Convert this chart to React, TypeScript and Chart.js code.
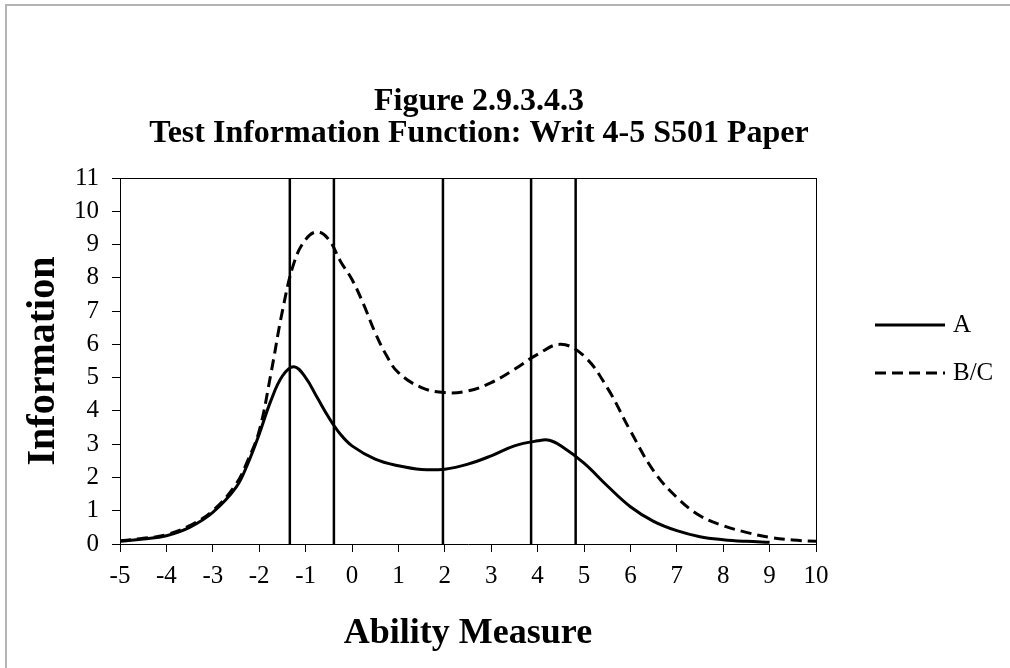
import React, { useEffect, useRef } from "react";
import { Chart, registerables } from "chart.js";

Chart.register(...registerables);

// ---- data ----
const TITLE_LINES = ["Figure 2.9.3.4.3", "Test Information Function: Writ 4-5 S501 Paper"];
const X_TITLE = "Ability Measure";
const Y_TITLE = "Information";

const ABILITY_A = [-5, -4.5, -4, -3.5, -3, -2.5, -2.25, -2, -1.75, -1.5, -1.25, -1, -0.75, -0.5, -0.25, 0, 0.5, 1, 1.5, 2, 2.5, 3, 3.5, 4, 4.25, 4.5, 5, 5.5, 6, 6.5, 7, 7.5, 8, 8.5, 9];
const INFO_A = [0.08, 0.15, 0.25, 0.5, 0.95, 1.7, 2.4, 3.3, 4.3, 5.05, 5.33, 5.0, 4.4, 3.8, 3.3, 2.95, 2.55, 2.35, 2.24, 2.25, 2.4, 2.65, 2.95, 3.1, 3.12, 2.95, 2.43, 1.75, 1.12, 0.68, 0.4, 0.22, 0.13, 0.08, 0.05];

const ABILITY_BC = [-5, -4.5, -4, -3.5, -3, -2.5, -2.25, -2, -1.75, -1.5, -1.25, -1, -0.75, -0.5, -0.25, 0, 0.25, 0.5, 0.75, 1, 1.5, 2, 2.5, 3, 3.5, 4, 4.5, 5, 5.5, 6, 6.5, 7, 7.5, 8, 8.5, 9, 9.5, 10];
const INFO_BC = [0.1, 0.17, 0.28, 0.55, 1.0, 1.8, 2.5, 3.4, 5.1, 7.0, 8.45, 9.15, 9.38, 9.15, 8.5, 7.95, 7.2, 6.35, 5.65, 5.15, 4.7, 4.55, 4.6, 4.85, 5.25, 5.7, 6.0, 5.65, 4.7, 3.4, 2.2, 1.4, 0.85, 0.55, 0.35, 0.2, 0.12, 0.08];

const CUT_SCORES = [-1.34, -0.39, 1.96, 3.86, 4.82];

const SERIES_LABELS = ["A", "B/C"];
const X_MIN = -5;
const X_MAX = 10;
const Y_MIN = 0;
const Y_MAX = 11;

const FONT = "'Liberation Serif', 'Times New Roman', serif";

const decorPlugin = {
  id: "decor",
  beforeDraw(chart: any) {
    const ctx = chart.ctx;
    ctx.save();
    ctx.fillStyle = "#ffffff";
    ctx.fillRect(0, 0, chart.width, chart.height);
    ctx.fillStyle = "#b4b4b4";
    ctx.fillRect(5, 4, chart.width - 5, 2);
    ctx.fillRect(5, 4, 2, chart.height - 4);
    ctx.restore();
  },
  afterDraw(chart: any) {
    const ctx = chart.ctx;
    const ca = chart.chartArea;
    ctx.save();
    // top frame line
    ctx.strokeStyle = "#000";
    ctx.lineWidth = 1;
    ctx.beginPath();
    ctx.moveTo(ca.left, Math.round(ca.top) + 0.5);
    ctx.lineTo(ca.right, Math.round(ca.top) + 0.5);
    ctx.stroke();

    // legend
    const items = chart.data.datasets.filter((d: any) => d.showInLegend);
    const ys = [325, 373];
    ctx.fillStyle = "#000";
    ctx.font = `25px ${FONT}`;
    ctx.textAlign = "left";
    ctx.textBaseline = "middle";
    items.forEach((d: any, i: number) => {
      const y = ys[i];
      ctx.strokeStyle = d.borderColor;
      ctx.lineWidth = d.borderWidth;
      ctx.setLineDash(d.borderDash || []);
      ctx.beginPath();
      ctx.moveTo(875, y);
      ctx.lineTo(945, y);
      ctx.stroke();
      ctx.setLineDash([]);
      ctx.fillText(d.label, 953, y);
    });
    ctx.restore();
  },
};

export default function App() {
  const ref = useRef<HTMLCanvasElement>(null);

  useEffect(() => {
    if (!ref.current) return;
    const cutSets = CUT_SCORES.map((c, i) => ({
      label: `cut${i}`,
      data: [
        { x: c, y: Y_MIN },
        { x: c, y: Y_MAX },
      ],
      borderColor: "#000",
      borderWidth: 2.5,
      pointRadius: 0,
      showInLegend: false,
    }));
    const chart = new Chart(ref.current, {
      type: "line",
      data: {
        datasets: [
          {
            label: SERIES_LABELS[0],
            data: ABILITY_A.map((x, i) => ({ x, y: INFO_A[i] })),
            borderColor: "#000",
            backgroundColor: "transparent",
            borderWidth: 3,
            pointRadius: 0,
            tension: 0.4,
            showInLegend: true,
          } as any,
          {
            label: SERIES_LABELS[1],
            data: ABILITY_BC.map((x, i) => ({ x, y: INFO_BC[i] })),
            borderColor: "#000",
            backgroundColor: "transparent",
            borderWidth: 3,
            borderDash: [11, 6],
            pointRadius: 0,
            tension: 0.4,
            showInLegend: true,
          } as any,
          ...(cutSets as any[]),
        ],
      },
      options: {
        responsive: false,
        animation: false,
        layout: { padding: { left: 22, right: 74, top: 0, bottom: 0 } },
        plugins: {
          legend: { display: false },
          tooltip: { enabled: false },
          title: {
            display: true,
            text: TITLE_LINES,
            color: "#000",
            font: { family: FONT, size: 32, weight: "bold", lineHeight: 1 },
            padding: { top: 86, bottom: 28 },
          },
        },
        scales: {
          x: {
            type: "linear",
            min: X_MIN,
            max: X_MAX,
            afterFit: (s: any) => {
              s.height = 124;
            },
            title: {
              display: true,
              text: X_TITLE,
              color: "#000",
              font: { family: FONT, size: 36, weight: "bold", lineHeight: 1.2 },
              padding: { top: 0, bottom: 13 },
            },
            ticks: {
              stepSize: 1,
              color: "#000",
              font: { family: FONT, size: 25 },
              padding: 9,
              maxRotation: 0,
              autoSkip: false,
            },
            grid: {
              drawOnChartArea: false,
              drawTicks: true,
              tickLength: 8,
              tickColor: "#000",
              tickWidth: 1,
            },
            border: { display: true, color: "#000", width: 1 },
          },
          y: {
            type: "linear",
            min: Y_MIN,
            max: Y_MAX,
            afterFit: (s: any) => {
              s.width = 98;
            },
            title: {
              display: true,
              text: Y_TITLE,
              color: "#000",
              font: { family: FONT, size: 40, weight: "bold", lineHeight: 1.1 },
              padding: { top: 0, bottom: 0 },
            },
            ticks: {
              stepSize: 1,
              color: "#000",
              font: { family: FONT, size: 25 },
              padding: 13,
            },
            grid: {
              drawOnChartArea: false,
              drawTicks: true,
              tickLength: 8,
              tickColor: "#000",
              tickWidth: 1,
            },
            border: { display: true, color: "#000", width: 1 },
          },
          yRight: {
            type: "linear",
            position: "right",
            display: true,
            afterFit: (s: any) => {
              s.width = 120;
            },
            ticks: { display: false },
            grid: { display: false, drawTicks: false },
            border: { display: true, color: "#000", width: 1 },
          },
        },
      } as any,
      plugins: [decorPlugin],
    });
    return () => chart.destroy();
  }, []);

  return (
    <canvas
      ref={ref}
      width={1010}
      height={668}
      style={{ position: "fixed", left: 0, top: 0, display: "block", width: 1010, height: 668 }}
    />
  );
}
